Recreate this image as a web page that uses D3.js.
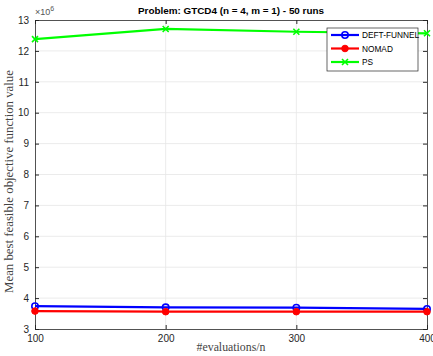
<!DOCTYPE html>
<html>
<head>
<meta charset="utf-8">
<script src="https://cdn.jsdelivr.net/npm/d3@7"></script>
<style>
body { margin:0; background:#fff; }
</style>
</head>
<body>
<script>
// evaluations/n on the x axis
var evals = [100, 200, 300, 400];
// values in units of 10^6
var deftFunnel = [3.74, 3.70, 3.69, 3.65];
var nomad = [3.58, 3.56, 3.56, 3.56];
var ps = [12.38, 12.71, 12.62, 12.57];
var yTicks = [3, 4, 5, 6, 7, 8, 9, 10, 11, 12, 13];
var xTicks = [100, 200, 300, 400];

var series = [
  {name:"DEFT-FUNNEL", values:deftFunnel, color:"#0000ff", marker:"circle"},
  {name:"NOMAD", values:nomad, color:"#ff0000", marker:"dot"},
  {name:"PS", values:ps, color:"#00ff00", marker:"x"}
];

var width = 433, height = 356;
var mLeft = 35, mRight = 427, mTop = 20, mBottom = 329;
var sans = "'Liberation Sans', Arial, sans-serif";
var serif = "'Liberation Serif', 'Times New Roman', serif";

var svg = d3.select("body").append("svg")
    .attr("width", width)
    .attr("height", height)
    .style("font-family", sans);

var x = d3.scaleLinear().domain([100, 400]).range([mLeft, mRight]);
var y = d3.scaleLinear().domain([3, 13]).range([mBottom, mTop]);

// grid
svg.append("g").selectAll("line").data(yTicks.slice(1, -1)).enter().append("line")
    .attr("x1", mLeft).attr("x2", mRight)
    .attr("y1", function(d){ return y(d); }).attr("y2", function(d){ return y(d); })
    .attr("stroke", "#e6e6e6").attr("stroke-width", 0.8);
svg.append("g").selectAll("line").data(xTicks.slice(1, -1)).enter().append("line")
    .attr("y1", mTop).attr("y2", mBottom)
    .attr("x1", function(d){ return x(d); }).attr("x2", function(d){ return x(d); })
    .attr("stroke", "#e6e6e6").attr("stroke-width", 0.8);

// axes
svg.append("g").attr("transform", "translate(0," + mBottom + ")")
    .call(d3.axisBottom(x).tickValues(xTicks).tickSize(-4).tickPadding(6));
svg.append("g").attr("transform", "translate(" + mLeft + ",0)")
    .call(d3.axisLeft(y).tickValues(yTicks).tickSize(-4).tickPadding(6));
svg.append("g").attr("transform", "translate(0," + mTop + ")")
    .call(d3.axisTop(x).tickValues(xTicks).tickSize(-4).tickFormat(""));
svg.append("g").attr("transform", "translate(" + mRight + ",0)")
    .call(d3.axisRight(y).tickValues(yTicks).tickSize(-4).tickFormat(""));
svg.selectAll(".domain").attr("stroke", "#262626").attr("stroke-width", 0.8);
svg.selectAll(".tick line").attr("stroke", "#262626");
svg.selectAll(".tick text").attr("font-size", 10).attr("fill", "#262626")
    .style("font-family", sans);

// exponent label
var expo = svg.append("text").attr("x", mLeft).attr("y", 15)
    .attr("font-size", 9).attr("fill", "#555");
expo.append("tspan").text("\u00d710");
expo.append("tspan").attr("dy", -4).attr("font-size", 7).text("6");

// lines
var line = d3.line()
    .x(function(d, i){ return x(evals[i]); })
    .y(function(d){ return y(d); });

series.forEach(function(s){
  var g = svg.append("g");
  g.append("path").datum(s.values)
    .attr("d", line)
    .attr("fill", "none")
    .attr("stroke", s.color)
    .attr("stroke-width", 2.2);
  drawMarkers(g, s, s.values.map(function(v, i){ return [x(evals[i]), y(v)]; }));
});

function drawMarkers(g, s, pts) {
  pts.forEach(function(p){
    if (s.marker == "circle") {
      g.append("circle").attr("cx", p[0]).attr("cy", p[1]).attr("r", 3.2)
        .attr("fill", "none").attr("stroke", s.color).attr("stroke-width", 1.6);
    } else if (s.marker == "dot") {
      g.append("circle").attr("cx", p[0]).attr("cy", p[1]).attr("r", 3.3)
        .attr("fill", s.color).attr("stroke", s.color);
    } else {
      g.append("path")
        .attr("d", "M" + (p[0]-3) + "," + (p[1]-3) + "L" + (p[0]+3) + "," + (p[1]+3) +
                   "M" + (p[0]-3) + "," + (p[1]+3) + "L" + (p[0]+3) + "," + (p[1]-3))
        .attr("stroke", s.color).attr("stroke-width", 1.6);
    }
  });
}

// legend
var lx = 327, ly = 28, lw = 91, lh = 43;
var legend = svg.append("g");
legend.append("rect").attr("x", lx).attr("y", ly).attr("width", lw).attr("height", lh)
    .attr("fill", "#fff").attr("stroke", "#262626").attr("stroke-width", 0.7);
series.forEach(function(s, i){
  var yy = ly + 7 + i * 13.5;
  legend.append("line").attr("x1", lx + 4).attr("x2", lx + 32)
    .attr("y1", yy).attr("y2", yy).attr("stroke", s.color).attr("stroke-width", 2.2);
  drawMarkers(legend, s, [[lx + 18, yy]]);
  legend.append("text").attr("x", lx + 35).attr("y", yy + 3.2)
    .attr("font-size", 8.3).attr("fill", "#000").text(s.name);
});

// title
svg.append("text").attr("x", (mLeft + mRight) / 2).attr("y", 14)
    .attr("text-anchor", "middle").attr("font-size", 9.9).attr("font-weight", "bold")
    .text("Problem: GTCD4 (n = 4, m = 1) - 50 runs");

// axis labels
svg.append("text").attr("x", (mLeft + mRight) / 2).attr("y", 351)
    .attr("text-anchor", "middle").attr("font-size", 11.8)
    .style("font-family", serif).attr("fill", "#444")
    .text("#evaluations/n");
svg.append("text")
    .attr("transform", "translate(13," + ((mTop + mBottom) / 2 + 7) + ") rotate(-90)")
    .attr("text-anchor", "middle").attr("font-size", 12.8)
    .style("font-family", serif).attr("fill", "#444")
    .text("Mean best feasible objective function value");
</script>
</body>
</html>
